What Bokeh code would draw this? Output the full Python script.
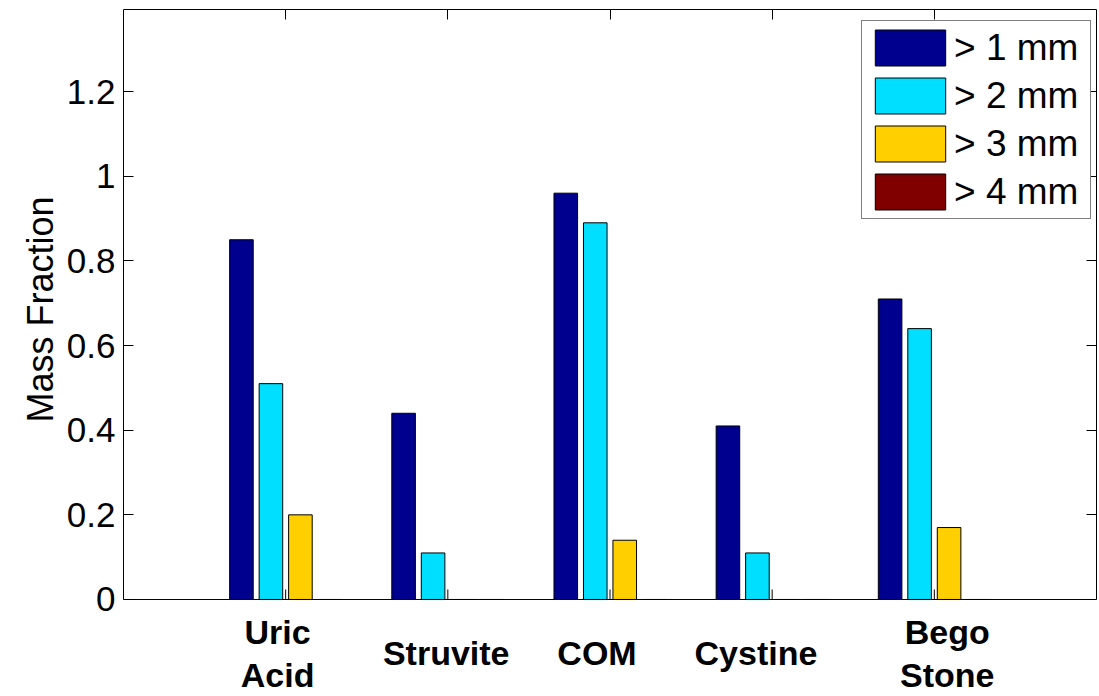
from bokeh.plotting import figure
from bokeh.models import FixedTicker, LinearAxis, Legend, LegendItem, Range1d, Span, Title
from bokeh.core.properties import value
from bokeh.embed import file_html
from bokeh.resources import INLINE

categories = ["Uric\nAcid", "Struvite", "COM", "Cystine", "Bego\nStone"]
series_names = ["> 1 mm", "> 2 mm", "> 3 mm", "> 4 mm"]
gt1mm = [0.85, 0.44, 0.96, 0.41, 0.71]
gt2mm = [0.51, 0.11, 0.89, 0.11, 0.64]
gt3mm = [0.20, 0.0, 0.14, 0.0, 0.17]
gt4mm = [0.0, 0.0, 0.0, 0.0, 0.0]
colors = ["#00008F", "#00DFFF", "#FFCF00", "#800000"]
label_x = [0.95, 1.99, 2.92, 3.90, 5.08]
y_ticks = [0, 0.2, 0.4, 0.6, 0.8, 1.0, 1.2]
y_tick_labels = ["0", "0.2", "0.4", "0.6", "0.8", "1", "1.2"]
y_label = "Mass Fraction"

series = [gt1mm, gt2mm, gt3mm, gt4mm]
cat_pos = list(range(1, len(categories) + 1))

FONT = "Liberation Sans"
Y_TOP = 1.394
Y_BOTTOM = -0.2292          # room below zero for the category names
FRAME_H = 696 - 9
PX = (Y_TOP - Y_BOTTOM) / FRAME_H   # data units per pixel
TICK_PX = 10

p = figure(width=1099, height=696, x_range=Range1d(0, 6), y_range=Range1d(Y_BOTTOM, Y_TOP),
           output_backend="svg", toolbar_location=None, x_axis_location="above",
           min_border_left=123, min_border_right=3, min_border_top=9, min_border_bottom=0)
p.xgrid.visible = False
p.ygrid.visible = False
p.outline_line_color = None
p.background_fill_color = "white"
p.border_fill_color = "white"

n = len(series)
group_width = min(0.8, n / (n + 1.5))
step = group_width / n
bar_w = 0.8 * step

items = []
for i, (vals, name, col) in enumerate(zip(series, series_names, colors)):
    off = (i - (n - 1) / 2) * step
    xs = [c + off for c in cat_pos]
    r = p.vbar(x=xs, top=vals, bottom=0, width=bar_w, fill_color=col,
               line_color="black", line_width=1)
    items.append(LegendItem(label=name, renderers=[r]))

# baseline (x axis at y = 0) with inward ticks
p.add_layout(Span(location=0, dimension="width", line_color="black", line_width=1))
p.segment(x0=cat_pos, y0=[0] * len(cat_pos), x1=cat_pos, y1=[TICK_PX * PX] * len(cat_pos),
          line_color="black", line_width=1)

# left axis
ya = p.yaxis[0]
ya.bounds = (0, Y_TOP)
ya.ticker = FixedTicker(ticks=y_ticks)
ya.major_label_overrides = {t: s for t, s in zip(y_ticks, y_tick_labels)}
ya.major_tick_in = TICK_PX
ya.major_tick_out = 0
ya.minor_tick_in = 0
ya.minor_tick_out = 0
ya.major_label_standoff = 8
ya.major_label_text_font = FONT
ya.major_label_text_font_size = "35px"
ya.major_label_text_color = "black"
ya.axis_line_color = "black"
ya.major_tick_line_color = "black"

# y axis title, centred on the 0..Y_TOP span of the axis
p.add_layout(Title(text=y_label, align="left", offset=274, standoff=6,
                   text_font=FONT, text_font_size="36px", text_font_style="normal",
                   text_color="black"), "left")

def mirror(ax, ticks):
    ax.ticker = FixedTicker(ticks=ticks)
    ax.major_label_overrides = {t: "" for t in ticks}
    ax.major_label_text_font_size = "1px"
    ax.major_label_standoff = 0
    ax.major_tick_in = TICK_PX
    ax.major_tick_out = 0
    ax.minor_tick_in = 0
    ax.minor_tick_out = 0
    ax.axis_line_color = "black"
    ax.major_tick_line_color = "black"

mirror(p.xaxis[0], cat_pos)
ra = LinearAxis()
mirror(ra, y_ticks)
ra.bounds = (0, Y_TOP)
p.add_layout(ra, "right")

# category names below the baseline
p.text(x=label_x, y=[-54 * PX] * len(label_x), text=categories,
       text_align="center", text_baseline="middle",
       text_font=value(FONT), text_font_size="34px", text_font_style="bold",
       text_color="black", text_line_height=1.15)

legend = Legend(items=items, location=(738, 696 - 219))
legend.glyph_width = 88
legend.glyph_height = 45
legend.spacing = 3
legend.padding = 4
legend.margin = 0
legend.label_standoff = 0
legend.label_width = 132
legend.label_text_font = FONT
legend.label_text_font_size = "37px"
legend.label_text_color = "black"
legend.border_line_color = "black"
legend.border_line_width = 1
legend.background_fill_color = "white"
legend.background_fill_alpha = 1
p.add_layout(legend)

open("out.html", "w").write(file_html(p, INLINE))
